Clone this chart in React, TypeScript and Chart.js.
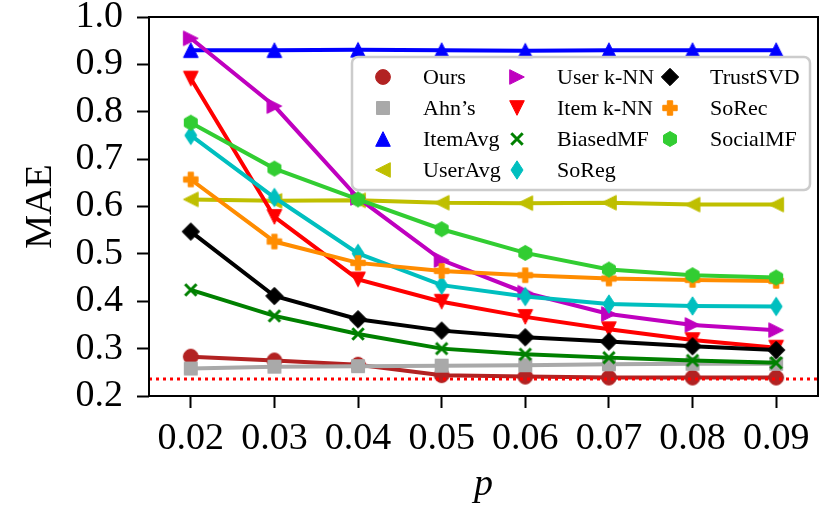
import React, { useRef, useEffect } from 'react';
import { Chart, registerables } from 'chart.js';

Chart.register(...registerables);

// p values on the x axis
const categories = ['0.02', '0.03', '0.04', '0.05', '0.06', '0.07', '0.08', '0.09'];

// MAE per method
const ours = [0.283, 0.275, 0.266, 0.244, 0.241, 0.239, 0.239, 0.239];
const ahns = [0.258, 0.262, 0.263, 0.264, 0.265, 0.267, 0.268, 0.268];
const itemAvg = [0.930, 0.930, 0.931, 0.930, 0.929, 0.930, 0.930, 0.930];
const userAvg = [0.615, 0.612, 0.613, 0.608, 0.607, 0.608, 0.604, 0.604];
const userKnn = [0.955, 0.812, 0.618, 0.487, 0.418, 0.373, 0.350, 0.339];
const itemKnn = [0.870, 0.578, 0.446, 0.399, 0.367, 0.341, 0.318, 0.302];
const biasedMF = [0.424, 0.369, 0.331, 0.300, 0.288, 0.281, 0.275, 0.270];
const soReg = [0.750, 0.619, 0.501, 0.434, 0.410, 0.394, 0.390, 0.389];
const trustSVD = [0.547, 0.411, 0.362, 0.338, 0.324, 0.315, 0.305, 0.297];
const soRec = [0.657, 0.526, 0.481, 0.464, 0.455, 0.448, 0.445, 0.443];
const socialMF = [0.777, 0.680, 0.615, 0.552, 0.502, 0.467, 0.455, 0.450];

// red dotted reference level
const baseline = 0.236;

const yTicks = [0.2, 0.3, 0.4, 0.5, 0.6, 0.7, 0.8, 0.9, 1.0];

const SERIF = "'Liberation Serif', 'Times New Roman', serif";

type Marker = 'circle' | 'square' | 'up' | 'down' | 'left' | 'right' | 'x' | 'thin' | 'diamond' | 'plus' | 'hex';

const series: { label: string; data: number[]; color: string; marker: Marker }[] = [
  { label: 'Ours', data: ours, color: '#b22222', marker: 'circle' },
  { label: 'Ahn\u2019s', data: ahns, color: '#a9a9a9', marker: 'square' },
  { label: 'ItemAvg', data: itemAvg, color: '#0000ff', marker: 'up' },
  { label: 'UserAvg', data: userAvg, color: '#bfbf00', marker: 'left' },
  { label: 'User k-NN', data: userKnn, color: '#bf00bf', marker: 'right' },
  { label: 'Item k-NN', data: itemKnn, color: '#ff0000', marker: 'down' },
  { label: 'BiasedMF', data: biasedMF, color: '#008000', marker: 'x' },
  { label: 'SoReg', data: soReg, color: '#00bfbf', marker: 'thin' },
  { label: 'TrustSVD', data: trustSVD, color: '#000000', marker: 'diamond' },
  { label: 'SoRec', data: soRec, color: '#ff8c00', marker: 'plus' },
  { label: 'SocialMF', data: socialMF, color: '#32cd32', marker: 'hex' },
];

function poly(ctx: CanvasRenderingContext2D, pts: number[][]) {
  ctx.beginPath();
  pts.forEach(([x, y], i) => (i ? ctx.lineTo(x, y) : ctx.moveTo(x, y)));
  ctx.closePath();
}

function makeMarker(kind: Marker, color: string): HTMLCanvasElement {
  const c = document.createElement('canvas');
  c.width = 24;
  c.height = 24;
  const ctx = c.getContext('2d')!;
  ctx.translate(12, 12);
  ctx.fillStyle = color;
  ctx.strokeStyle = color;
  ctx.lineWidth = 1;
  const h = 7.3;
  switch (kind) {
    case 'circle':
      ctx.beginPath();
      ctx.arc(0, 0, 7.4, 0, Math.PI * 2);
      break;
    case 'square':
      ctx.beginPath();
      ctx.rect(-6.5, -6.5, 13, 13);
      break;
    case 'up':
      poly(ctx, [[0, -h], [-h, h], [h, h]]);
      break;
    case 'down':
      poly(ctx, [[0, h], [-h, -h], [h, -h]]);
      break;
    case 'left':
      poly(ctx, [[-h, 0], [h, -h], [h, h]]);
      break;
    case 'right':
      poly(ctx, [[h, 0], [-h, -h], [-h, h]]);
      break;
    case 'diamond':
      poly(ctx, [[0, -8.7], [8.7, 0], [0, 8.7], [-8.7, 0]]);
      break;
    case 'thin':
      poly(ctx, [[0, -9.2], [6, 0], [0, 9.2], [-6, 0]]);
      break;
    case 'plus': {
      const a = 7.2, w = 2.7;
      poly(ctx, [[-w, -a], [w, -a], [w, -w], [a, -w], [a, w], [w, w], [w, a], [-w, a], [-w, w], [-a, w], [-a, -w], [-w, -w]]);
      break;
    }
    case 'hex': {
      const pts: number[][] = [];
      for (let k = 0; k < 6; k++) {
        const ang = -Math.PI / 2 + (k * Math.PI) / 3;
        pts.push([7.5 * Math.cos(ang), 7.5 * Math.sin(ang)]);
      }
      poly(ctx, pts);
      break;
    }
    case 'x':
      ctx.lineWidth = 3;
      ctx.beginPath();
      ctx.moveTo(-5.7, -5.7);
      ctx.lineTo(5.7, 5.7);
      ctx.moveTo(5.7, -5.7);
      ctx.lineTo(-5.7, 5.7);
      ctx.stroke();
      return c;
  }
  ctx.fill();
  ctx.stroke();
  return c;
}

export default function App() {
  const chartRef = useRef<HTMLCanvasElement>(null);
  const chartInstanceRef = useRef<Chart | null>(null);

  useEffect(() => {
    if (!chartRef.current) return;
    if (chartInstanceRef.current) chartInstanceRef.current.destroy();
    const ctx = chartRef.current.getContext('2d');
    if (!ctx) return;

    const markers = series.map((s) => makeMarker(s.marker, s.color));

    // dotted level, frame and the column-major legend
    const overlay = {
      id: 'overlay',
      afterDatasetsDraw(chart: any) {
        const { ctx: c, chartArea: a, scales } = chart;
        const y = scales.y.getPixelForValue(baseline);
        c.save();
        c.strokeStyle = '#ff0000';
        c.lineWidth = 3;
        c.setLineDash([3, 4]);
        c.beginPath();
        c.moveTo(a.left, y);
        c.lineTo(a.right, y);
        c.stroke();
        c.setLineDash([]);

        c.strokeStyle = '#000';
        c.lineWidth = 2;
        c.strokeRect(a.left, a.top, a.right - a.left, a.bottom - a.top);

        // legend box
        const bx = a.right - 466;
        const by = a.top + 40;
        const bw = 458;
        const bh = 133;
        c.beginPath();
        c.roundRect(bx, by, bw, bh, 6);
        c.fillStyle = 'rgba(255,255,255,0.8)';
        c.fill();
        c.strokeStyle = '#cccccc';
        c.lineWidth = 2.5;
        c.stroke();

        const markerX = [31, 165, 318];
        const textX = [71, 205, 358];
        c.font = `22px ${SERIF}`;
        c.fillStyle = '#000';
        c.textBaseline = 'middle';
        c.textAlign = 'left';
        series.forEach((s, i) => {
          const col = Math.floor(i / 4);
          const row = i % 4;
          const ry = by + 20 + row * 31;
          const m = markers[i];
          c.drawImage(m, bx + markerX[col] - m.width / 2, ry - m.height / 2);
          c.fillText(s.label, bx + textX[col], ry + 1);
        });
        c.restore();
      },
    };

    chartInstanceRef.current = new Chart(ctx, {
      type: 'line',
      data: {
        labels: categories,
        datasets: series.map((s, i) => ({
          label: s.label,
          data: s.data,
          borderColor: s.color,
          backgroundColor: s.color,
          borderWidth: 4,
          pointStyle: markers[i],
          pointRadius: 8,
          pointHoverRadius: 8,
          tension: 0,
          fill: false,
          order: series.length - i,
        })),
      },
      options: {
        animation: false,
        responsive: true,
        maintainAspectRatio: false,
        layout: { padding: { left: 0, right: 12, top: 17, bottom: 0 } },
        plugins: {
          legend: { display: false },
          tooltip: { enabled: false },
        },
        scales: {
          x: {
            type: 'category',
            offset: true,
            border: { display: false },
            grid: {
              drawOnChartArea: false,
              drawTicks: true,
              tickLength: 12,
              tickWidth: 2,
              tickColor: '#000',
              color: '#000',
            },
            ticks: {
              color: '#000',
              padding: 8,
              maxRotation: 0,
              autoSkip: false,
              font: { family: SERIF, size: 38 },
            },
            title: {
              display: true,
              text: 'p',
              color: '#000',
              font: { family: SERIF, size: 38, style: 'italic' },
              padding: { top: 0, bottom: 6 },
            },
            afterFit(scale: any) {
              scale.height = 118;
              scale.paddingLeft = 0;
              scale.paddingRight = 0;
            },
          },
          y: {
            min: 0.2,
            max: 1.0,
            border: { display: false },
            grid: {
              drawOnChartArea: false,
              drawTicks: true,
              tickLength: 12,
              tickWidth: 2,
              tickColor: '#000',
              color: '#000',
            },
            afterBuildTicks(scale: any) {
              scale.ticks = yTicks.map((v) => ({ value: v }));
            },
            ticks: {
              color: '#000',
              padding: 14,
              autoSkip: false,
              font: { family: SERIF, size: 38 },
              callback: (v: any) => Number(v).toFixed(1),
            },
            title: {
              display: true,
              text: 'MAE',
              color: '#000',
              font: { family: SERIF, size: 38 },
              padding: { top: 18, bottom: 0 },
            },
            afterFit(scale: any) {
              scale.width = 149;
              scale.paddingTop = 0;
              scale.paddingBottom = 0;
            },
          },
        },
      },
      plugins: [overlay],
    });

    return () => {
      if (chartInstanceRef.current) {
        chartInstanceRef.current.destroy();
        chartInstanceRef.current = null;
      }
    };
  }, []);

  return (
    <div style={{ position: 'fixed', left: 0, top: 0, width: 830, height: 514, background: '#fff' }}>
      <canvas ref={chartRef} />
    </div>
  );
}
